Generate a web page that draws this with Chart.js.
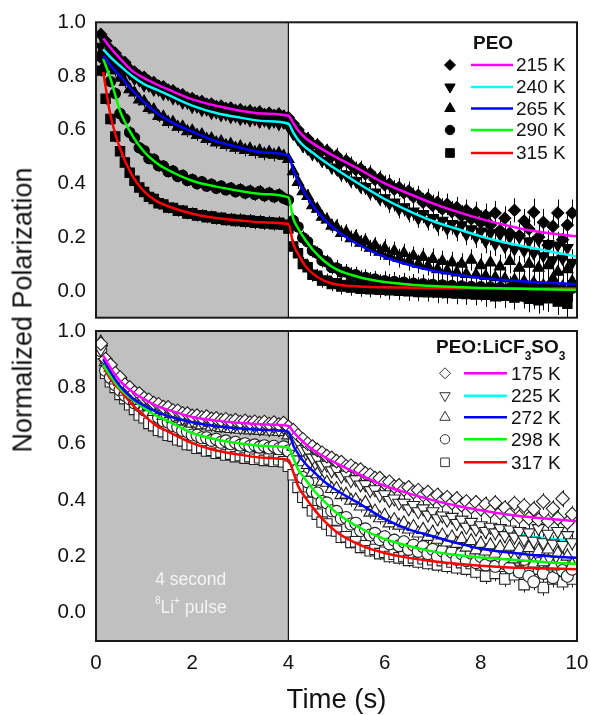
<!DOCTYPE html>
<html>
<head>
<meta charset="utf-8">
<script src="https://cdn.jsdelivr.net/npm/chart.js@4.4.0/dist/chart.umd.min.js"></script>
<style>
  html, body { margin: 0; padding: 0; background: #fff; }
  #wrap { position: relative; width: 590px; height: 715px; overflow: hidden; }
  canvas { position: absolute; left: 0; }
  #top { top: 0; }
  #bot { top: 300px; }
  #ytitle {
    position: absolute; left: 23px; top: 310px;
    transform: translate(-50%, -50%) rotate(-90deg);
    font: 27px "Liberation Sans", Arial, sans-serif;
    white-space: nowrap; color: #111;
  }
</style>
</head>
<body>
<div id="wrap">
  <canvas id="bot" width="590" height="415"></canvas>
  <canvas id="top" width="590" height="340"></canvas>
  <div id="ytitle">Normalized Polarization</div>
</div>
<script>
// time bins of the measured points (s)
const TIME = [0.1,0.2,0.3,0.4,0.5,0.6,0.7,0.8,0.9,1.0,
  1.1,1.2,1.3,1.4,1.5,1.6,1.7,1.8,1.9,2.0,
  2.1,2.2,2.3,2.4,2.5,2.6,2.7,2.8,2.9,3.0,
  3.1,3.2,3.3,3.4,3.5,3.6,3.7,3.8,3.9,4.0,
  4.1,4.2,4.3,4.4,4.5,4.6,4.7,4.8,4.9,5.0,
  5.1,5.2,5.3,5.4,5.5,5.6,5.7,5.8,5.9,6.0,
  6.1,6.2,6.3,6.4,6.5,6.6,6.7,6.8,6.9,7.0,
  7.1,7.2,7.3,7.4,7.5,7.6,7.7,7.8,7.9,8.0,
  8.1,8.2,8.3,8.4,8.5,8.6,8.7,8.8,8.9,9.0,
  9.1,9.2,9.3,9.4,9.5,9.6,9.7,9.8,9.9];

// PEO, measured points
const PEO_215 = [0.955,0.93,0.9,0.885,0.86,0.85,0.825,0.815,0.8,0.795,
  0.78,0.776,0.763,0.76,0.748,0.745,0.733,0.73,0.718,0.716,
  0.706,0.705,0.695,0.696,0.686,0.688,0.679,0.681,0.672,0.674,
  0.666,0.67,0.662,0.666,0.657,0.661,0.653,0.658,0.65,0.645,
  0.622,0.6,0.574,0.566,0.545,0.543,0.522,0.522,0.5,0.503,
  0.48,0.484,0.47,0.452,0.455,0.435,0.438,0.415,0.418,0.395,
  0.398,0.378,0.385,0.365,0.372,0.35,0.356,0.33,0.345,0.318,
  0.33,0.305,0.322,0.295,0.31,0.28,0.3,0.268,0.292,0.255,
  0.28,0.245,0.29,0.225,0.27,0.215,0.3,0.205,0.26,0.23,
  0.293,0.2,0.255,0.17,0.24,0.29,0.19,0.245,0.29];
const PEO_240 = [0.91,0.885,0.872,0.848,0.84,0.818,0.81,0.79,0.785,0.766,
  0.765,0.75,0.749,0.734,0.733,0.718,0.717,0.702,0.701,0.686,
  0.687,0.674,0.676,0.663,0.665,0.655,0.658,0.648,0.651,0.641,
  0.645,0.636,0.64,0.631,0.635,0.626,0.631,0.622,0.627,0.612,
  0.585,0.565,0.54,0.53,0.51,0.505,0.485,0.48,0.46,0.455,
  0.435,0.432,0.412,0.41,0.39,0.387,0.366,0.367,0.345,0.346,
  0.325,0.33,0.305,0.312,0.29,0.296,0.27,0.287,0.26,0.272,
  0.245,0.262,0.232,0.25,0.225,0.245,0.21,0.23,0.2,0.222,
  0.185,0.215,0.175,0.21,0.165,0.2,0.155,0.2,0.15,0.185,
  0.14,0.19,0.13,0.175,0.115,0.17,0.12,0.16,0.105];
const PEO_265 = [0.885,0.862,0.835,0.82,0.793,0.777,0.75,0.738,0.712,0.705,
  0.68,0.675,0.65,0.648,0.628,0.628,0.61,0.611,0.594,0.596,
  0.58,0.582,0.565,0.567,0.552,0.556,0.542,0.546,0.532,0.537,
  0.524,0.529,0.516,0.522,0.51,0.517,0.506,0.512,0.502,0.49,
  0.445,0.405,0.37,0.352,0.318,0.305,0.275,0.265,0.242,0.238,
  0.215,0.218,0.195,0.2,0.178,0.185,0.16,0.17,0.145,0.158,
  0.13,0.148,0.122,0.14,0.11,0.13,0.1,0.125,0.092,0.118,
  0.08,0.11,0.075,0.105,0.068,0.1,0.062,0.115,0.06,0.095,
  0.055,0.105,0.05,0.09,0.045,0.11,0.04,0.085,0.035,0.1,
  0.03,0.085,0.02,0.095,0.045,0.07,0.015,0.08,0.035];
const PEO_290 = [0.872,0.835,0.78,0.735,0.66,0.64,0.59,0.57,0.533,0.522,
  0.493,0.49,0.466,0.465,0.444,0.446,0.426,0.43,0.411,0.415,
  0.399,0.406,0.39,0.397,0.382,0.39,0.376,0.383,0.369,0.377,
  0.364,0.372,0.359,0.37,0.354,0.364,0.35,0.358,0.345,0.338,
  0.262,0.238,0.198,0.183,0.15,0.14,0.113,0.108,0.087,0.085,
  0.07,0.07,0.058,0.06,0.047,0.05,0.04,0.044,0.032,0.038,
  0.028,0.035,0.024,0.032,0.02,0.028,0.016,0.026,0.012,0.024,
  0.01,0.022,0.006,0.02,0.004,0.018,0.0,0.016,-0.004,0.015,
  -0.006,0.014,-0.01,0.012,-0.012,0.01,-0.015,0.008,-0.02,0.006,
  -0.018,0.004,-0.022,0.005,-0.01,-0.02,0.002,-0.016,0.01];
const PEO_315 = [0.82,0.715,0.64,0.575,0.52,0.478,0.44,0.41,0.385,0.368,
  0.35,0.342,0.326,0.322,0.31,0.309,0.298,0.298,0.288,0.289,
  0.28,0.282,0.274,0.277,0.268,0.272,0.264,0.268,0.26,0.265,
  0.257,0.262,0.253,0.259,0.251,0.256,0.248,0.254,0.246,0.232,
  0.165,0.14,0.1,0.088,0.06,0.056,0.038,0.038,0.025,0.028,
  0.016,0.022,0.012,0.02,0.008,0.018,0.006,0.016,0.004,0.015,
  0.002,0.015,0.0,0.014,-0.002,0.013,-0.004,0.012,-0.005,0.012,
  -0.006,0.011,-0.008,0.01,-0.01,0.01,-0.012,0.008,-0.014,0.006,
  -0.015,0.005,-0.02,0.004,-0.018,0.0,-0.025,0.006,-0.02,-0.03,
  0.005,-0.035,0.0,-0.028,0.01,-0.04,-0.01,-0.048,0.02];

// PEO:LiCF3SO3, measured points
const SALT_175 = [0.955,0.9,0.88,0.85,0.835,0.81,0.8,0.782,0.778,0.762,
  0.756,0.744,0.74,0.73,0.729,0.718,0.717,0.708,0.707,0.699,
  0.7,0.693,0.696,0.688,0.69,0.684,0.687,0.68,0.684,0.677,
  0.681,0.675,0.678,0.673,0.677,0.67,0.675,0.668,0.673,0.66,
  0.648,0.63,0.616,0.6,0.59,0.578,0.568,0.556,0.55,0.538,
  0.535,0.52,0.522,0.51,0.508,0.495,0.49,0.478,0.478,0.46,
  0.465,0.448,0.452,0.438,0.445,0.428,0.435,0.418,0.428,0.405,
  0.418,0.398,0.41,0.39,0.405,0.382,0.395,0.375,0.392,0.368,
  0.385,0.36,0.39,0.355,0.372,0.348,0.388,0.34,0.38,0.335,
  0.368,0.33,0.395,0.325,0.37,0.335,0.405,0.32,0.35];
const SALT_225 = [0.935,0.885,0.865,0.83,0.818,0.79,0.785,0.762,0.762,0.742,
  0.743,0.725,0.728,0.712,0.716,0.701,0.706,0.691,0.696,0.683,
  0.689,0.677,0.683,0.671,0.677,0.666,0.673,0.663,0.67,0.659,
  0.667,0.657,0.664,0.655,0.662,0.652,0.661,0.651,0.659,0.645,
  0.625,0.61,0.58,0.575,0.55,0.548,0.525,0.525,0.505,0.508,
  0.485,0.49,0.47,0.474,0.455,0.456,0.435,0.438,0.418,0.42,
  0.4,0.405,0.39,0.39,0.37,0.382,0.36,0.37,0.348,0.36,
  0.335,0.345,0.33,0.34,0.318,0.33,0.305,0.322,0.298,0.31,
  0.29,0.305,0.285,0.3,0.275,0.295,0.27,0.29,0.26,0.285,
  0.255,0.3,0.25,0.28,0.245,0.29,0.24,0.275,0.25];
const SALT_272 = [0.96,0.89,0.87,0.825,0.82,0.785,0.785,0.752,0.756,0.73,
  0.735,0.713,0.72,0.7,0.706,0.689,0.695,0.68,0.686,0.672,
  0.681,0.666,0.675,0.661,0.67,0.656,0.667,0.653,0.664,0.65,
  0.661,0.648,0.659,0.646,0.657,0.644,0.655,0.642,0.653,0.63,
  0.59,0.57,0.535,0.525,0.498,0.492,0.466,0.462,0.44,0.44,
  0.418,0.42,0.398,0.4,0.378,0.39,0.356,0.36,0.336,0.345,
  0.318,0.33,0.31,0.318,0.296,0.305,0.282,0.295,0.27,0.285,
  0.26,0.275,0.25,0.268,0.245,0.262,0.232,0.255,0.222,0.245,
  0.218,0.24,0.21,0.232,0.205,0.235,0.19,0.225,0.195,0.23,
  0.175,0.22,0.18,0.225,0.165,0.21,0.19,0.2,0.17];
const SALT_298 = [0.93,0.86,0.835,0.81,0.79,0.772,0.76,0.745,0.735,0.72,
  0.712,0.698,0.693,0.681,0.677,0.664,0.659,0.647,0.643,0.631,
  0.63,0.621,0.621,0.612,0.616,0.605,0.61,0.6,0.605,0.595,
  0.6,0.591,0.596,0.588,0.593,0.585,0.591,0.582,0.589,0.575,
  0.545,0.51,0.48,0.465,0.432,0.425,0.395,0.39,0.362,0.36,
  0.335,0.338,0.315,0.318,0.292,0.298,0.276,0.282,0.26,0.27,
  0.245,0.258,0.238,0.252,0.225,0.24,0.218,0.235,0.21,0.225,
  0.2,0.22,0.195,0.215,0.19,0.21,0.185,0.212,0.178,0.2,
  0.17,0.205,0.165,0.2,0.175,0.16,0.2,0.145,0.19,0.13,
  0.11,0.175,0.14,0.185,0.125,0.16,0.15,0.13,0.155];
const SALT_317 = [0.92,0.85,0.82,0.8,0.775,0.76,0.738,0.722,0.702,0.692,
  0.672,0.664,0.648,0.643,0.63,0.627,0.614,0.61,0.597,0.596,
  0.584,0.586,0.574,0.577,0.566,0.57,0.56,0.563,0.554,0.558,
  0.549,0.554,0.545,0.55,0.541,0.546,0.538,0.543,0.536,0.52,
  0.49,0.445,0.41,0.392,0.362,0.35,0.322,0.315,0.292,0.29,
  0.268,0.27,0.25,0.252,0.232,0.238,0.22,0.225,0.21,0.215,
  0.2,0.208,0.195,0.2,0.186,0.195,0.18,0.192,0.175,0.188,
  0.17,0.185,0.165,0.18,0.16,0.178,0.155,0.175,0.145,0.17,
  0.13,0.175,0.14,0.165,0.12,0.17,0.135,0.15,0.1,0.16,
  0.125,0.155,0.09,0.14,0.12,0.15,0.11,0.135,0.12];

// error-bar half widths, per whole second of TIME
const ERR_PEO = [0.022, 0.022, 0.022, 0.024, 0.026, 0.03, 0.035, 0.04, 0.045, 0.05];
const ERR_SALT = [0.018, 0.018, 0.018, 0.018, 0.02, 0.022, 0.024, 0.026, 0.028, 0.03];

// fitted curves
const FIT_T = [0.15,0.3,0.5,0.75,1.0,1.25,1.5,2.0,2.5,3.0,3.5,4.0,
  4.1,4.2,4.35,4.5,4.75,5.0,5.5,6.0,6.5,7.0,7.5,8.0,8.5,9.0,9.5,10.0];
const FIT_215 = [0.94,0.905,0.865,0.82,0.792,0.77,0.75,0.713,0.689,0.671,0.66,0.652,
  0.625,0.598,0.57,0.55,0.522,0.497,0.45,0.40,0.362,0.326,0.295,0.268,0.245,0.226,0.213,0.203];
const FIT_240 = [0.90,0.87,0.838,0.80,0.77,0.75,0.73,0.69,0.662,0.645,0.632,0.622,
  0.59,0.563,0.535,0.515,0.482,0.452,0.395,0.342,0.298,0.26,0.231,0.203,0.18,0.162,0.145,0.128];
const FIT_265 = [0.875,0.84,0.80,0.748,0.703,0.665,0.635,0.593,0.557,0.533,0.515,0.504,
  0.45,0.41,0.36,0.32,0.265,0.225,0.168,0.126,0.097,0.075,0.06,0.048,0.04,0.034,0.029,0.025];
const FIT_290 = [0.865,0.79,0.67,0.58,0.518,0.477,0.45,0.41,0.388,0.372,0.36,0.348,
  0.27,0.233,0.19,0.155,0.11,0.08,0.05,0.033,0.024,0.018,0.014,0.011,0.009,0.007,0.005,0.004];
const FIT_315 = [0.815,0.655,0.53,0.43,0.37,0.335,0.315,0.287,0.271,0.262,0.255,0.249,
  0.175,0.138,0.093,0.065,0.037,0.024,0.016,0.013,0.012,0.011,0.01,0.01,0.009,0.009,0.009,0.009];
const FIT_175 = [0.913,0.87,0.823,0.785,0.758,0.735,0.72,0.695,0.682,0.674,0.668,0.663,
  0.643,0.624,0.60,0.58,0.553,0.53,0.489,0.451,0.424,0.40,0.38,0.364,0.35,0.34,0.332,0.325];
const FIT_225 = [0.905,0.862,0.815,0.775,0.748,0.727,0.712,0.688,0.673,0.664,0.658,0.654,
  0.628,0.605,0.578,0.556,0.525,0.502,0.46,0.415,0.378,0.35,0.322,0.303,0.288,0.272,0.262,0.254];
const FIT_272 = [0.90,0.855,0.805,0.762,0.735,0.714,0.698,0.676,0.662,0.654,0.649,0.643,
  0.595,0.565,0.53,0.505,0.465,0.435,0.385,0.333,0.296,0.272,0.248,0.227,0.216,0.206,0.2,0.195];
const FIT_298 = [0.88,0.84,0.795,0.758,0.727,0.70,0.68,0.638,0.615,0.601,0.592,0.586,
  0.55,0.51,0.475,0.44,0.395,0.355,0.30,0.262,0.237,0.218,0.205,0.196,0.19,0.184,0.178,0.174];
const FIT_317 = [0.875,0.83,0.79,0.74,0.70,0.665,0.643,0.602,0.576,0.561,0.55,0.542,
  0.50,0.45,0.41,0.375,0.325,0.287,0.24,0.212,0.195,0.183,0.174,0.167,0.162,0.159,0.157,0.155];

const TOP_LABELS = ['215 K', '240 K', '265 K', '290 K', '315 K'];
const BOT_LABELS = ['175 K', '225 K', '272 K', '298 K', '317 K'];
const X_TICKS = [0, 2, 4, 6, 8, 10];
const Y_TICKS = [0, 0.2, 0.4, 0.6, 0.8, 1.0];
const PULSE = [0, 4];

const COLORS = ['#ff00ff', '#00ffff', '#0000ff', '#00ff00', '#ff0000'];
const MARKERS = [
  { style: 'rectRot', r: 6, rot: 0 },
  { style: 'triangle', r: 6.5, rot: 180 },
  { style: 'triangle', r: 6.5, rot: 0 },
  { style: 'circle', r: 5.2, rot: 0 },
  { style: 'rect', r: 6.6, rot: 0 }
];
const FONT = '"Liberation Sans", Arial, sans-serif';

const toPts = (xs, ys) => xs.map((x, i) => ({ x: x, y: ys[i] }));

// grey pulse window, line at end of pulse, error bars, frame
const shadePlugin = {
  id: 'shade',
  beforeDatasetsDraw(chart, args, o) {
    const { ctx, chartArea: a, scales: { x, y } } = chart;
    const x0 = x.getPixelForValue(PULSE[0]);
    const x1 = x.getPixelForValue(PULSE[1]);
    ctx.save();
    ctx.fillStyle = '#c0c0c0';
    ctx.fillRect(x0, a.top, x1 - x0, a.bottom - a.top);
    ctx.strokeStyle = '#111';
    ctx.lineWidth = 1.2;
    ctx.beginPath();
    ctx.moveTo(x1, a.top);
    ctx.lineTo(x1, a.bottom);
    ctx.stroke();
    // error bars of the measured points
    ctx.beginPath();
    ctx.rect(a.left, a.top, a.right - a.left, a.bottom - a.top);
    ctx.clip();
    ctx.strokeStyle = o.barColor || '#000';
    ctx.lineWidth = 1;
    ctx.beginPath();
    chart.data.datasets.forEach(ds => {
      if (!ds.err) return;
      ds.data.forEach(p => {
        const e = ds.err[Math.min(9, Math.floor(p.x))];
        const px = Math.round(x.getPixelForValue(p.x)) + 0.5;
        ctx.moveTo(px, y.getPixelForValue(p.y + e));
        ctx.lineTo(px, y.getPixelForValue(p.y - e));
      });
    });
    ctx.stroke();
    ctx.restore();
  },
  afterDatasetsDraw(chart) {
    const { ctx, chartArea: a } = chart;
    ctx.save();
    ctx.strokeStyle = '#1a1a1a';
    ctx.lineWidth = 2;
    ctx.strokeRect(a.left, a.top, a.right - a.left, a.bottom - a.top);
    ctx.restore();
  }
};

// legend: marker, line, label
const keyPlugin = {
  id: 'keyBox',
  afterDraw(chart, args, o) {
    if (!o || !o.labels) return;
    const ctx = chart.ctx;
    ctx.save();
    ctx.textBaseline = 'middle';
    ctx.textAlign = 'left';
    ctx.fillStyle = '#111';
    let x = o.titleX;
    o.title.forEach(part => {
      ctx.font = part.sub ? 'bold 12px ' + FONT : 'bold 19px ' + FONT;
      ctx.fillText(part.t, x, o.titleY + (part.sub ? 9 : 0));
      x += ctx.measureText(part.t).width;
    });
    o.labels.forEach((lab, i) => {
      const y = o.rowY[i];
      const m = MARKERS[i];
      ctx.fillStyle = o.fill;
      ctx.strokeStyle = o.stroke;
      ctx.lineWidth = 1;
      Chart.helpers.drawPoint(ctx, { pointStyle: m.style, radius: m.r - 0.5, rotation: m.rot, borderWidth: 1 }, o.markX, y);
      ctx.strokeStyle = COLORS[i];
      ctx.lineWidth = 2.5;
      ctx.beginPath();
      ctx.moveTo(o.lineX[0], y);
      ctx.lineTo(o.lineX[1], y);
      ctx.stroke();
      ctx.fillStyle = '#111';
      ctx.font = '19px ' + FONT;
      ctx.fillText(lab, o.textX, y + 1);
    });
    ctx.restore();
  }
};

// "4 second / 8Li+ pulse" note inside the grey window
const notePlugin = {
  id: 'pulseNote',
  afterDatasetsDraw(chart, args, o) {
    if (!o || !o.show) return;
    const { ctx, scales: { x, y } } = chart;
    const cx = x.getPixelForValue(1.97);
    ctx.save();
    ctx.fillStyle = '#f4f4f4';
    ctx.textBaseline = 'middle';
    ctx.textAlign = 'left';
    ctx.font = '17.5px ' + FONT;
    const l1 = '4 second';
    ctx.fillText(l1, cx - ctx.measureText(l1).width / 2, y.getPixelForValue(0.115));
    const parts = [{ t: '8', sup: true }, { t: 'Li' }, { t: '+', sup: true }, { t: ' pulse' }];
    let w = 0;
    parts.forEach(p => { ctx.font = (p.sup ? '10px ' : '17.5px ') + FONT; w += ctx.measureText(p.t).width; });
    let px = cx - w / 2;
    const py = y.getPixelForValue(0.018);
    parts.forEach(p => {
      ctx.font = (p.sup ? '10px ' : '17.5px ') + FONT;
      ctx.fillText(p.t, px, py - (p.sup ? 6 : 0));
      px += ctx.measureText(p.t).width;
    });
    ctx.restore();
  }
};

function buildSets(series, fits, err, markFill, markStroke, grow, underFits) {
  const sets = [];
  fits.forEach((f, i) => {
    sets.push({
      data: toPts(FIT_T, f),
      showLine: true,
      borderColor: COLORS[i],
      borderWidth: 2.5,
      pointRadius: 0,
      cubicInterpolationMode: 'monotone',
      fill: false,
      order: underFits.includes(i) ? 2 : 0
    });
  });
  series.forEach((s, i) => {
    sets.push({
      data: toPts(TIME, s),
      err: err,
      showLine: false,
      pointStyle: MARKERS[i].style,
      pointRadius: MARKERS[i].r + grow,
      pointRotation: MARKERS[i].rot,
      backgroundColor: markFill,
      borderColor: markStroke,
      borderWidth: 1.1,
      order: 1
    });
  });
  return sets;
}

function yAxis() {
  return {
    type: 'linear', min: -0.1, max: 1.0,
    afterBuildTicks: a => { a.ticks = Y_TICKS.map(v => ({ value: v })); },
    afterFit: s => { s.width = 96; },
    grid: { display: false, drawTicks: false },
    border: { display: false },
    ticks: { color: '#111', font: { family: FONT, size: 20.5 }, padding: 10, callback: v => v.toFixed(1) }
  };
}

new Chart(document.getElementById('top'), {
  type: 'scatter',
  data: { datasets: buildSets([PEO_215, PEO_240, PEO_265, PEO_290, PEO_315],
    [FIT_215, FIT_240, FIT_265, FIT_290, FIT_315], ERR_PEO, '#000', '#000', 0, []) },
  options: {
    responsive: false, animation: false,
    layout: { padding: { top: 22, right: 13, bottom: 9, left: 0 } },
    scales: {
      x: { type: 'linear', min: 0, max: 10, display: false },
      y: yAxis()
    },
    plugins: {
      legend: { display: false }, tooltip: { enabled: false },
      shade: { barColor: '#000' },
      keyBox: {
        title: [{ t: 'PEO' }], titleX: 473, titleY: 44,
        labels: TOP_LABELS, rowY: [65, 87, 108.5, 130, 153],
        markX: 450, lineX: [471, 513], textX: 516, fill: '#000', stroke: '#000'
      }
    }
  },
  plugins: [shadePlugin, keyPlugin]
});

new Chart(document.getElementById('bot'), {
  type: 'scatter',
  data: { datasets: buildSets([SALT_175, SALT_225, SALT_272, SALT_298, SALT_317],
    [FIT_175, FIT_225, FIT_272, FIT_298, FIT_317], ERR_SALT, '#fff', '#222', 0.8, [1]) },
  options: {
    responsive: false, animation: false,
    layout: { padding: { top: 31, right: 13, bottom: 0, left: 0 } },
    scales: {
      x: {
        type: 'linear', min: 0, max: 10,
        afterBuildTicks: a => { a.ticks = X_TICKS.map(v => ({ value: v })); },
        afterFit: s => { s.height = 74; s.paddingLeft = 0; s.paddingRight = 0; },
        grid: { display: false, drawTicks: false },
        border: { display: false },
        ticks: { color: '#111', font: { family: FONT, size: 20.5 }, padding: 10 },
        title: { display: true, text: 'Time (s)', color: '#111', font: { family: FONT, size: 27.5 }, padding: { top: 0, bottom: -2 } }
      },
      y: yAxis()
    },
    plugins: {
      legend: { display: false }, tooltip: { enabled: false },
      shade: { barColor: '#222' },
      pulseNote: { show: true },
      keyBox: {
        title: [{ t: 'PEO:LiCF' }, { t: '3', sub: true }, { t: 'SO' }, { t: '3', sub: true }],
        titleX: 436, titleY: 48,
        labels: BOT_LABELS, rowY: [73.3, 95.7, 117.3, 139.3, 162.3],
        markX: 445, lineX: [464, 507], textX: 511, fill: '#fff', stroke: '#333'
      }
    }
  },
  plugins: [shadePlugin, keyPlugin, notePlugin]
});
</script>
</body>
</html>
